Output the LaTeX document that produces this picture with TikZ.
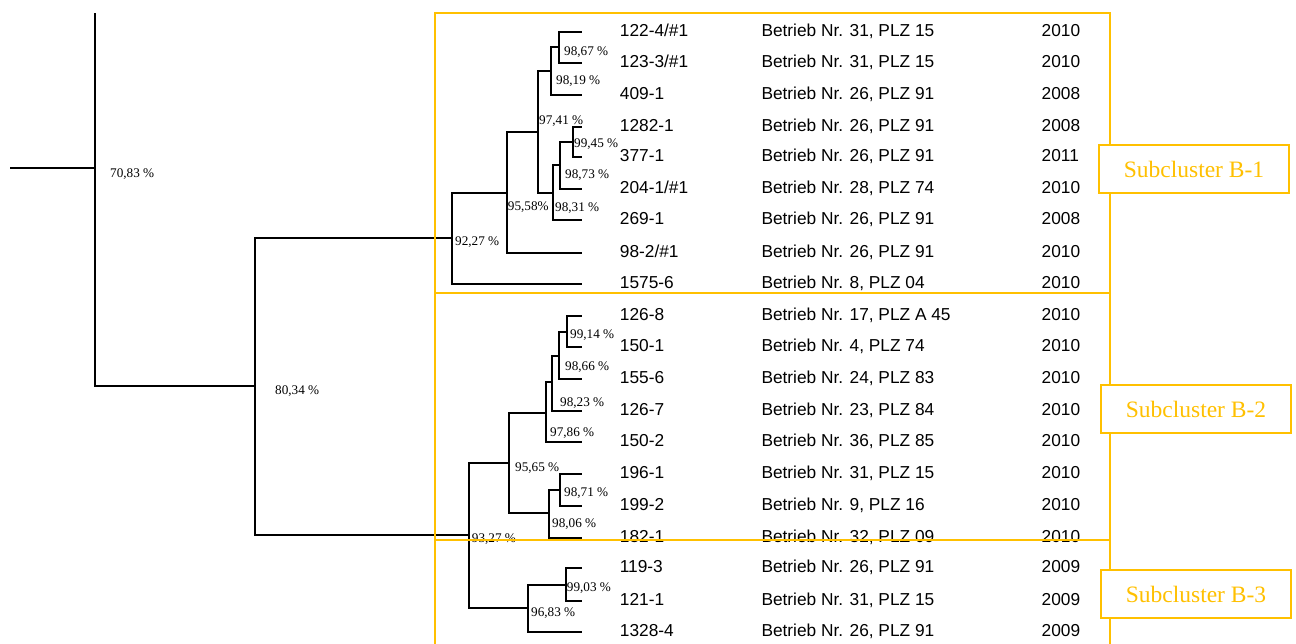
\documentclass[tikz,border=0pt]{standalone}
\usepackage{fontspec}
\setmainfont{Liberation Serif}
\newfontfamily\arialf{Liberation Sans}
\definecolor{gold}{HTML}{FFC000}
\newcommand\leafrow[5]{%
  \coordinate (L#1) at (582,#2);
  \node[lt] (id#1) at (619.7,#2+4.8) {#3};
  \node[lt] (bt#1) at (761.3,#2+4.8) {#4};
  \node[lt] (yr#1) at (1041.5,#2+4.8) {#5};
}
\begin{document}
\begin{tikzpicture}[x=1pt,y=-1pt,
  branch/.style={draw=black,line width=2pt},
  obox/.style={draw=gold,line width=2pt},
  pct/.style={anchor=base west,inner sep=0pt,font=\fontsize{13.2}{15}\selectfont},
  lt/.style={anchor=base west,inner sep=0pt,font=\arialf\fontsize{17.3}{20}\selectfont},
  sbox/.style={draw=gold,fill=white,line width=2pt,text=gold,inner sep=0pt,
    minimum width=190,minimum height=48,font=\fontsize{23.5}{26}\selectfont}]
\useasboundingbox (0,0) rectangle (1296,644);
\clip (0,0) rectangle (1296,644);
% ---------- leaf rows ----------
\leafrow{0}{32}{122-4/\#1}{Betrieb Nr. 31, PLZ 15}{2010}
\leafrow{1}{63}{123-3/\#1}{Betrieb Nr. 31, PLZ 15}{2010}
\leafrow{2}{95}{409-1}{Betrieb Nr. 26, PLZ 91}{2008}
\leafrow{3}{127}{1282-1}{Betrieb Nr. 26, PLZ 91}{2008}
\leafrow{4}{157}{377-1}{Betrieb Nr. 26, PLZ 91}{2011}
\leafrow{5}{189}{204-1/\#1}{Betrieb Nr. 28, PLZ 74}{2010}
\leafrow{6}{220}{269-1}{Betrieb Nr. 26, PLZ 91}{2008}
\leafrow{7}{253}{98-2/\#1}{Betrieb Nr. 26, PLZ 91}{2010}
\leafrow{8}{284}{1575-6}{Betrieb Nr. 8, PLZ 04}{2010}
\leafrow{9}{316}{126-8}{Betrieb Nr. 17, PLZ A 45}{2010}
\leafrow{10}{347}{150-1}{Betrieb Nr. 4, PLZ 74}{2010}
\leafrow{11}{379}{155-6}{Betrieb Nr. 24, PLZ 83}{2010}
\leafrow{12}{411}{126-7}{Betrieb Nr. 23, PLZ 84}{2010}
\leafrow{13}{442}{150-2}{Betrieb Nr. 36, PLZ 85}{2010}
\leafrow{14}{474}{196-1}{Betrieb Nr. 31, PLZ 15}{2010}
\leafrow{15}{506}{199-2}{Betrieb Nr. 9, PLZ 16}{2010}
\leafrow{16}{538}{182-1}{Betrieb Nr. 32, PLZ 09}{2010}
\leafrow{17}{568}{119-3}{Betrieb Nr. 26, PLZ 91}{2009}
\leafrow{18}{601}{121-1}{Betrieb Nr. 31, PLZ 15}{2009}
\leafrow{19}{632}{1328-4}{Betrieb Nr. 26, PLZ 91}{2009}
% ---------- internal nodes ----------
\coordinate (n9867) at (559,47);
\coordinate (n9819) at (551,71);
\coordinate (n9945) at (573,142);
\coordinate (n9873) at (560,165);
\coordinate (n9831) at (553,193);
\coordinate (n9741) at (538,132);
\coordinate (n9558) at (507,193);
\coordinate (n9227) at (452,238);
\coordinate (n9914) at (567,332);
\coordinate (n9866) at (559,356);
\coordinate (n9823) at (552,382);
\coordinate (n9786) at (546,413);
\coordinate (n9871) at (560,490);
\coordinate (n9806) at (549,513);
\coordinate (n9565) at (509,463);
\coordinate (n9903) at (566,585);
\coordinate (n9683) at (528,608);
\coordinate (n9327) at (469,535);
\coordinate (n8034) at (255,386);
\coordinate (n7083) at (95,168);
\coordinate (cut) at (95,13);
\coordinate (root) at (10,168);
% ---------- branches ----------
\draw[branch] (n9867) |- (L0);  \draw[branch] (n9867) |- (L1);
\draw[branch] (n9819) |- (n9867); \draw[branch] (n9819) |- (L2);
\draw[branch] (n9945) |- (L3);  \draw[branch] (n9945) |- (L4);
\draw[branch] (n9873) |- (n9945); \draw[branch] (n9873) |- (L5);
\draw[branch] (n9831) |- (n9873); \draw[branch] (n9831) |- (L6);
\draw[branch] (n9741) |- (n9819); \draw[branch] (n9741) |- (n9831);
\draw[branch] (n9558) |- (n9741); \draw[branch] (n9558) |- (L7);
\draw[branch] (n9227) |- (n9558); \draw[branch] (n9227) |- (L8);
\draw[branch] (n9914) |- (L9);  \draw[branch] (n9914) |- (L10);
\draw[branch] (n9866) |- (n9914); \draw[branch] (n9866) |- (L11);
\draw[branch] (n9823) |- (n9866); \draw[branch] (n9823) |- (L12);
\draw[branch] (n9786) |- (n9823); \draw[branch] (n9786) |- (L13);
\draw[branch] (n9871) |- (L14); \draw[branch] (n9871) |- (L15);
\draw[branch] (n9806) |- (n9871); \draw[branch] (n9806) |- (L16);
\draw[branch] (n9565) |- (n9786); \draw[branch] (n9565) |- (n9806);
\draw[branch] (n9903) |- (L17); \draw[branch] (n9903) |- (L18);
\draw[branch] (n9683) |- (n9903); \draw[branch] (n9683) |- (L19);
\draw[branch] (n9327) |- (n9565); \draw[branch] (n9327) |- (n9683);
\draw[branch] (n8034) |- (n9227); \draw[branch] (n8034) |- (n9327);
\draw[branch] (n7083) -- (cut);   \draw[branch] (n7083) |- (n8034);
\draw[branch] (root) -- (n7083);
% ---------- percentages ----------
\node[pct] (p9867) at (564,55.5) {98,67 \%};
\node[pct] (p9819) at (556,84.5) {98,19 \%};
\node[pct] (p9741) at (539,124.5) {97,41 \%};
\node[pct] (p9945) at (574,147.5) {99,45 \%};
\node[pct] (p9873) at (565,178.5) {98,73 \%};
\node[pct] (p9558) at (507.7,211) {95,58\%};
\node[pct] (p9831) at (555,211.5) {98,31 \%};
\node[pct] (p9227) at (455,246) {92,27 \%};
\node[pct] (p9914) at (570,338.8) {99,14 \%};
\node[pct] (p9866) at (565,370.5) {98,66 \%};
\node[pct] (p9823) at (560,406) {98,23 \%};
\node[pct] (p9786) at (550,436) {97,86 \%};
\node[pct] (p9565) at (515,471) {95,65 \%};
\node[pct] (p9871) at (564,496) {98,71 \%};
\node[pct] (p9806) at (552,527) {98,06 \%};
\node[pct] (p9327) at (471.7,542.8) {93,27 \%};
\node[pct] (p9903) at (566.7,591) {99,03 \%};
\node[pct] (p9683) at (531,616) {96,83 \%};
\node[pct] (p7083) at (110,177.5) {70,83 \%};
\node[pct] (p8034) at (275,394) {80,34 \%};
% ---------- cluster frame ----------
\draw[obox] (435,700) |- (1110,13) -- (1110,700);
\draw[obox] (435,293) -- (1110,293);
\draw[obox] (435,540) -- (1110,540);
% ---------- subcluster labels ----------
\node[sbox] (s1) at (1194,169) {Subcluster B-1};
\node[sbox] (s2) at (1196,409) {Subcluster B-2};
\node[sbox] (s3) at (1196,594) {Subcluster B-3};
\end{tikzpicture}
\end{document}
